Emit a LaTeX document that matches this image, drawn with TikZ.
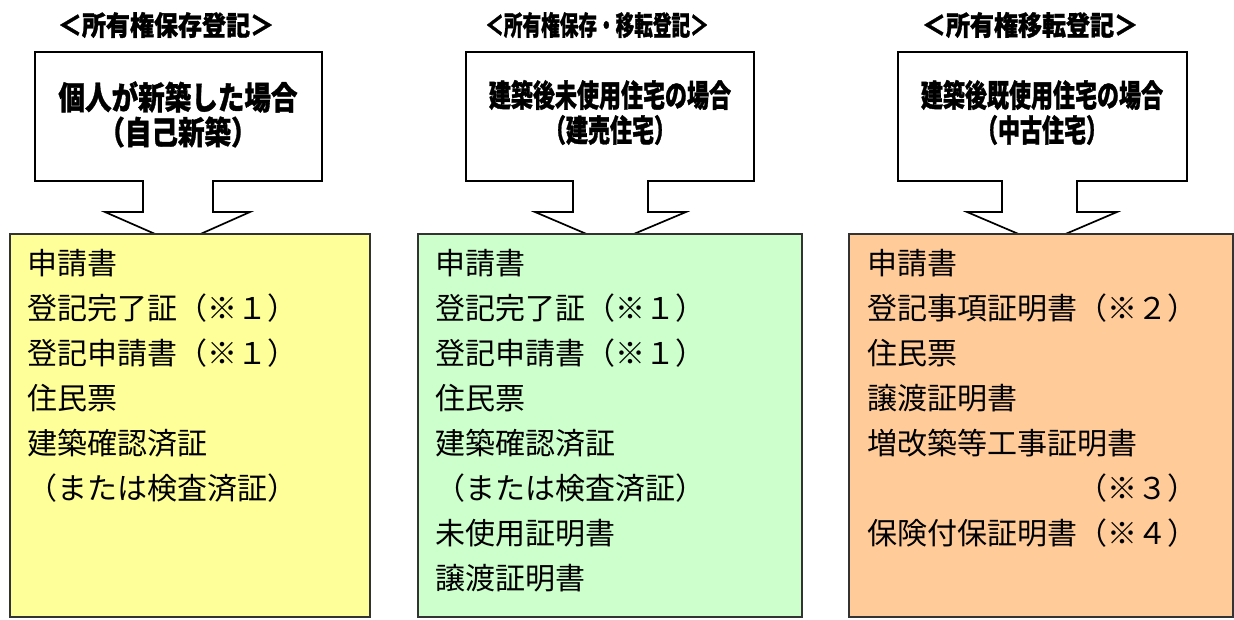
\documentclass[tikz,border=0pt]{standalone}
\usepackage{fontspec}
\usepackage{graphicx}
\newfontfamily\jp{Noto Sans CJK JP}[BoldFeatures={FakeBold=1.2}]
\definecolor{boxyellow}{HTML}{FFFF99}
\definecolor{boxgreen}{HTML}{CCFFCC}
\definecolor{boxorange}{HTML}{FFCC99}
\definecolor{boxline}{HTML}{333333}
\begin{document}
\begin{tikzpicture}[x=1pt,y=-1pt,
  callout/.style={draw=black, fill=white, line width=1.7pt, line join=miter},
  listbox/.style={draw=boxline, line width=1.5pt, anchor=north west, inner sep=0pt, outer sep=0pt},
  titletext/.style={font=\jp\bfseries\fontsize{27}{27}\selectfont, inner sep=0pt},
  casetext/.style={font=\jp\bfseries, inner sep=0pt},
  item/.style={anchor=base west, inner sep=0pt, font=\jp\fontsize{30}{32}\selectfont}]
\useasboundingbox (0,0) rectangle (1234,619);

% ---------- titles ----------
\node[titletext] (t1) at (166,25) {\scalebox{0.89}[1]{＜所有権保存登記＞}};
\node[titletext] (t2) at (597,25) {\scalebox{0.69}[1]{＜所有権保存・移転登記＞}};
\node[titletext] (t3) at (1030,25) {\scalebox{0.89}[1]{＜所有権移転登記＞}};

% ---------- callouts ----------
\draw[callout] (35,52) -- (322,52) -- (322,181) -- (213,181) -- (213,212) -- (250,212)
  -- (178,244) -- (105,212) -- (143,212) -- (143,181) -- (35,181) -- cycle;
\draw[callout] (466,52) -- (754,52) -- (754,181) -- (648,181) -- (648,212) -- (686,212)
  -- (610,244) -- (535,212) -- (573,212) -- (573,181) -- (466,181) -- cycle;
\draw[callout] (898,52) -- (1187,52) -- (1187,181) -- (1077,181) -- (1077,212) -- (1117,212)
  -- (1042,244) -- (967,212) -- (1002,212) -- (1002,181) -- (898,181) -- cycle;

\node[casetext] (c1a) at (178,97) {\fontsize{32}{32}\selectfont\scalebox{0.83}[1]{個人が新築した場合}};
\node[casetext] (c1b) at (178,132) {\fontsize{32}{32}\selectfont\scalebox{0.83}[1]{（自己新築）}};
\node[casetext] (c2a) at (610,95) {\fontsize{31}{31}\selectfont\scalebox{0.71}[1]{建築後未使用住宅の場合}};
\node[casetext] (c2b) at (610,130) {\fontsize{31}{31}\selectfont\scalebox{0.71}[1]{（建売住宅）}};
\node[casetext] (c3a) at (1042,95) {\fontsize{31}{31}\selectfont\scalebox{0.71}[1]{建築後既使用住宅の場合}};
\node[casetext] (c3b) at (1042,130) {\fontsize{31}{31}\selectfont\scalebox{0.71}[1]{（中古住宅）}};

% ---------- list boxes ----------
\node[listbox, fill=boxyellow, minimum width=360pt, minimum height=383pt] (b1) at (10,234) {};
\node[listbox, fill=boxgreen, minimum width=384pt, minimum height=383pt] (b2) at (418,234) {};
\node[listbox, fill=boxorange, minimum width=384pt, minimum height=383pt] (b3) at (849,234) {};

% ---------- list items ----------
\foreach \t [count=\i] in {申請書,登記完了証（※１）,登記申請書（※１）,住民票,建築確認済証,（または検査済証）}
  \node[item] (l1-\i) at (27,{274+45*(\i-1)}) {\t};
\foreach \t [count=\i] in {申請書,登記完了証（※１）,登記申請書（※１）,住民票,建築確認済証,（または検査済証）,未使用証明書,譲渡証明書}
  \node[item] (l2-\i) at (435,{274+45*(\i-1)}) {\t};
\foreach \t [count=\i] in {申請書,登記事項証明書（※２）,住民票,譲渡証明書,増改築等工事証明書,　　　　　　　（※３）,保険付保証明書（※４）}
  \node[item] (l3-\i) at (867,{274+45*(\i-1)}) {\t};
\end{tikzpicture}
\end{document}
